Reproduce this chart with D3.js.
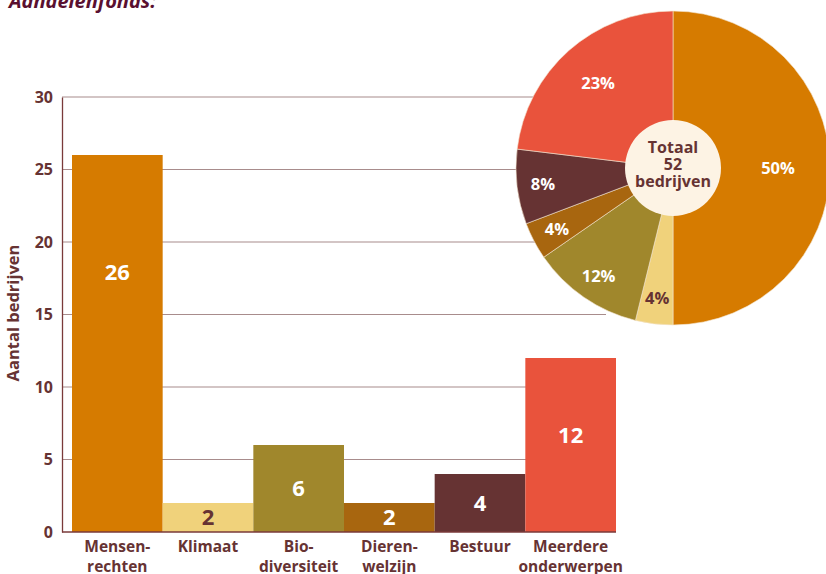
<!DOCTYPE html>
<html>
<head>
<meta charset="utf-8">
<script src="https://cdn.jsdelivr.net/npm/d3@7"></script>
<style>
  body { margin: 0; background: #fff; }
  svg { display: block; font-family: "Open Sans", Lato, sans-serif; }
</style>
</head>
<body>
<div id="chart"></div>
<script>
////////// data //////////
const categories = ["Mensenrechten", "Klimaat", "Biodiversiteit", "Dierenwelzijn", "Bestuur", "Meerdere onderwerpen"];
const categoryLines = [["Mensen-", "rechten"], ["Klimaat"], ["Bio-", "diversiteit"], ["Dieren-", "welzijn"], ["Bestuur"], ["Meerdere", "onderwerpen"]];
const counts = [26, 2, 6, 2, 4, 12];
const colors = ["#d67b00", "#f0d27b", "#a0872c", "#a8660f", "#663333", "#e9533c"];
const yTicks = [0, 5, 10, 15, 20, 25, 30];
const total = d3.sum(counts);

const width = 826, height = 574;
const dark = "#663333";

const svg = d3.select("#chart").append("svg")
  .attr("width", width)
  .attr("height", height);

// cut-off title at the top
svg.append("text")
  .attr("x", 9).attr("y", 8)
  .attr("font-size", 20)
  .attr("font-style", "italic")
  .attr("font-weight", 700)
  .attr("fill", "#5a1030")
  .text("Aandelenfonds:");

////////// bar chart //////////
const x = d3.scaleBand().domain(categories).range([72, 616]).padding(0);
const y = d3.scaleLinear().domain([0, 30]).range([532, 97]);

// gridlines
svg.append("g")
  .selectAll("line")
  .data(yTicks.filter(t => t > 0))
  .enter().append("line")
  .attr("x1", 62).attr("x2", 606)
  .attr("y1", d => y(d)).attr("y2", d => y(d))
  .attr("stroke", "#a88c8c")
  .attr("stroke-width", 1.2);

// y axis
const yAxis = svg.append("g")
  .attr("transform", "translate(62,0)")
  .call(d3.axisLeft(y).tickValues(yTicks).tickSize(0).tickPadding(9));
yAxis.select(".domain").attr("stroke", "#7a3a3a").attr("stroke-width", 1.3);
yAxis.selectAll("text")
  .attr("font-size", 16).attr("font-weight", 700)
  .attr("fill", dark)
  .attr("font-family", "'Open Sans', sans-serif");

svg.append("text")
  .attr("transform", "translate(19,313) rotate(-90)")
  .attr("text-anchor", "middle")
  .attr("font-size", 16.5).attr("font-weight", 700)
  .attr("fill", dark)
  .text("Aantal bedrijven");

// bars
const bars = categories.map((c, i) => ({ cat: c, value: counts[i], color: colors[i], lines: categoryLines[i] }));

svg.append("g")
  .selectAll("rect")
  .data(bars)
  .enter().append("rect")
  .attr("x", d => x(d.cat))
  .attr("y", d => y(d.value))
  .attr("width", x.bandwidth())
  .attr("height", d => y(0) - y(d.value))
  .attr("fill", d => d.color);

// bottom axis line
svg.append("line")
  .attr("x1", 62).attr("x2", 616)
  .attr("y1", y(0)).attr("y2", y(0))
  .attr("stroke", "#7a3a3a").attr("stroke-width", 1.3);

// value labels
svg.append("g")
  .selectAll("text")
  .data(bars)
  .enter().append("text")
  .attr("x", d => x(d.cat) + x.bandwidth() / 2)
  .attr("y", d => {
    const h = y(0) - y(d.value);
    return y(d.value) + Math.min(h / 2, 42 + h * 0.2);
  })
  .attr("dy", "0.36em")
  .attr("text-anchor", "middle")
  .attr("font-size", 22).attr("font-weight", 700)
  .attr("fill", d => d.color === "#f0d27b" ? dark : "#fff")
  .text(d => d.value);

// category labels
const catLabels = svg.append("g")
  .selectAll("text")
  .data(bars)
  .enter().append("text")
  .attr("x", d => x(d.cat) + x.bandwidth() / 2)
  .attr("y", 552)
  .attr("text-anchor", "middle")
  .attr("font-size", 15.5).attr("font-weight", 700)
  .attr("fill", dark);
catLabels.selectAll("tspan")
  .data(d => d.lines)
  .enter().append("tspan")
  .attr("x", function () { return d3.select(this.parentNode).attr("x"); })
  .attr("dy", (d, i) => i === 0 ? 0 : 20)
  .text(d => d);

////////// pie //////////
const cx = 673, cy = 168, r = 157;
const pie = d3.pie().sort(null).value(d => d.value);
const arc = d3.arc().innerRadius(0).outerRadius(r);
const arcs = pie(bars);

const pg = svg.append("g").attr("transform", `translate(${cx},${cy})`);
pg.selectAll("path")
  .data(arcs)
  .enter().append("path")
  .attr("d", arc)
  .attr("fill", d => d.data.color)
  .attr("stroke", "#f3e4cf")
  .attr("stroke-width", 0.6);

pg.selectAll("text.pct")
  .data(arcs)
  .enter().append("text")
  .attr("class", "pct")
  .attr("transform", d => {
    const share = d.data.value / total;
    const lr = share > 0.4 ? 105 : share > 0.2 ? 113 : 131;
    const a = (d.startAngle + d.endAngle) / 2;
    return `translate(${Math.sin(a) * lr},${-Math.cos(a) * lr})`;
  })
  .attr("dy", "0.36em")
  .attr("text-anchor", "middle")
  .attr("font-size", 16.5).attr("font-weight", 700)
  .attr("fill", d => d.data.color === "#f0d27b" ? dark : "#fff")
  .text(d => Math.round(d.data.value / total * 100) + "%");

pg.append("circle")
  .attr("r", 48)
  .attr("fill", "#fdf3e4");

pg.append("text")
  .attr("text-anchor", "middle")
  .attr("font-size", 16).attr("font-weight", 700)
  .attr("fill", dark)
  .selectAll("tspan")
  .data(["Totaal", String(total), "bedrijven"])
  .enter().append("tspan")
  .attr("x", 0)
  .attr("y", (d, i) => -15 + i * 17)
  .text(d => d);
</script>
</body>
</html>
